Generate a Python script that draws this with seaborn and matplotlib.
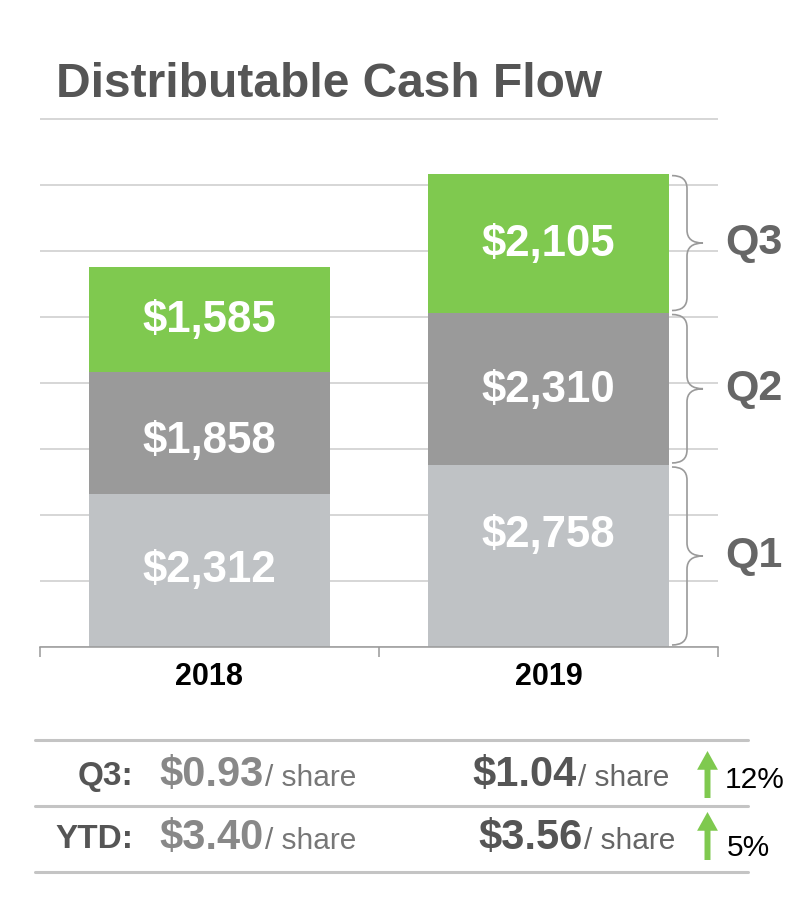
import numpy as np
import pandas as pd
import matplotlib
matplotlib.use("Agg")
import matplotlib.pyplot as plt
import seaborn as sns
from matplotlib.path import Path
from matplotlib.patches import PathPatch, FancyArrowPatch
from matplotlib.lines import Line2D

# ---------------- data ----------------
years = ["2018", "2019"]
q1 = [2312, 2758]
q2 = [1858, 2310]
q3 = [1585, 2105]
quarters = ["Q1", "Q2", "Q3"]

row_labels = ["Q3:", "YTD:"]
per_share_2018 = ["$0.93", "$3.40"]
per_share_2019 = ["$1.04", "$3.56"]
growth = ["12%", "5%"]

# ---------------- style ----------------
sns.set_style("white")
plt.rcParams['font.family'] = ['Liberation Sans', 'DejaVu Sans']

C_Q1 = "#bfc2c5"
C_Q2 = "#9a9a9a"
C_Q3 = "#7fc94f"
GRID = "#cccccc"

W, H = 810, 916
fig = plt.figure(figsize=(W / 100, H / 100), dpi=100)

PX_PER_1000 = 66.0
YMAX = 8200
ax_h = YMAX / 1000 * PX_PER_1000
ax = fig.add_axes([40 / W, (H - 647) / H, 678 / W, ax_h / H])

df = pd.DataFrame({"year": years, "q1": q1, "q2": q2, "q3": q3})
df["c1"] = df["q1"]
df["c2"] = df["q1"] + df["q2"]
df["c3"] = df["q1"] + df["q2"] + df["q3"]

bw = 0.708
for col, colr in [("c3", C_Q3), ("c2", C_Q2), ("c1", C_Q1)]:
    sns.barplot(data=df, x="year", y=col, color=colr, saturation=1,
                width=bw, ax=ax, linewidth=0, edgecolor="none")

ax.set_xlim(-0.5, 1.5)
ax.set_ylim(0, YMAX)
ax.set_yticks(np.arange(0, 8001, 1000))
ax.yaxis.grid(True, color=GRID, lw=1.1)
ax.set_axisbelow(True)
ax.set_yticklabels([])
ax.tick_params(axis="y", length=0)
for s in ["left", "right", "top"]:
    ax.spines[s].set_visible(False)
ax.spines["bottom"].set_color("#999999")
ax.spines["bottom"].set_linewidth(1.1)
ax.set_xlabel("")
ax.set_ylabel("")
ax.set_xticks([0, 1])
ax.set_xticklabels(years, fontsize=22, fontweight="bold", color="black")
ax.tick_params(axis="x", which="major", length=0, pad=11, bottom=True)
ax.set_xticks([-0.5, 0.5, 1.5], minor=True)
ax.tick_params(axis="x", which="minor", bottom=True, length=7, width=1.1,
               color="#999999", direction="out")

# segment value labels
u = 1000 / PX_PER_1000
label_dy = {(0, 0): 0, (0, 1): -8, (0, 2): -1, (1, 0): 20, (1, 1): -2, (1, 2): -1}
for i in range(len(years)):
    bottoms = [0, q1[i], q1[i] + q2[i]]
    vals = [q1[i], q2[i], q3[i]]
    for k in range(3):
        yc = bottoms[k] + vals[k] / 2 + label_dy[(i, k)] * u
        ax.text(i, yc, f"${vals[k]:,}", ha="center", va="center",
                color="white", fontsize=31.5, fontweight="bold")

# braces for 2019
def px2x(px):
    return (px - 549.5) / 339 + 1

def brace(ax, y0, y1, xa, xb, xc, r):
    ym = (y0 + y1) / 2
    verts = [(xa, y1), (xb, y1), (xb, y1 - r),
             (xb, ym + r), (xb, ym), (xc, ym),
             (xb, ym), (xb, ym - r),
             (xb, y0 + r), (xb, y0), (xa, y0)]
    codes = [Path.MOVETO, Path.CURVE3, Path.CURVE3,
             Path.LINETO, Path.CURVE3, Path.CURVE3,
             Path.CURVE3, Path.CURVE3,
             Path.LINETO, Path.CURVE3, Path.CURVE3]
    ax.add_patch(PathPatch(Path(verts, codes), fill=False, edgecolor="#9a9a9a",
                           lw=1.2, clip_on=False))

xa, xb, xc = px2x(673), px2x(688), px2x(704)
r = 13 * u
i = 1
bottoms = [0, q1[i], q1[i] + q2[i]]
vals = [q1[i], q2[i], q3[i]]
for k in range(3):
    y0 = bottoms[k] + 2 * u
    y1 = bottoms[k] + vals[k] - 2 * u
    brace(ax, y0, y1, xa, xb, xc, r)
    ax.text(px2x(726), (y0 + y1) / 2, quarters[k], ha="left", va="center",
            fontsize=31, fontweight="bold", color="#666666", clip_on=False)

# ---------------- title ----------------
def fx(px):
    return px / W

def fy(py):
    return 1 - py / H

fig.text(fx(56), fy(97), "Distributable Cash Flow", ha="left", va="baseline",
         fontsize=34.5, fontweight="bold", color="#555555")

# ---------------- table ----------------
for py in [740, 806, 872]:
    fig.add_artist(Line2D([fx(35), fx(748)], [fy(py), fy(py)],
                          color="#c4c4c4", lw=2.2))

base_y = [786, 849]
val18_end = [264, 264]
val19_end = [577, 583]
pct_x = [725, 727]
pct_y = [788, 856]
arrow_top = [751, 812]
arrow_bot = [798, 860]
for j in range(2):
    fig.text(fx(133), fy(base_y[j] - 1), row_labels[j], ha="right", va="baseline",
             fontsize=24, fontweight="bold", color="#555555")
    fig.text(fx(val18_end[j]), fy(base_y[j]), per_share_2018[j], ha="right",
             va="baseline", fontsize=30, fontweight="bold", color="#888888")
    fig.text(fx(val18_end[j] + 1), fy(base_y[j]), "/ share", ha="left",
             va="baseline", fontsize=21.5, color="#777777")
    fig.text(fx(val19_end[j]), fy(base_y[j]), per_share_2019[j], ha="right",
             va="baseline", fontsize=30, fontweight="bold", color="#555555")
    fig.text(fx(val19_end[j] + 1), fy(base_y[j]), "/ share", ha="left",
             va="baseline", fontsize=21.5, color="#666666")
    fig.text(fx(pct_x[j]), fy(pct_y[j]), growth[j], ha="left", va="baseline",
             fontsize=21.5, color="black")
    arr = FancyArrowPatch((fx(707.5), fy(arrow_bot[j])), (fx(707.5), fy(arrow_top[j])),
                          transform=fig.transFigure,
                          arrowstyle="simple,head_length=13.5,head_width=15,tail_width=4.3",
                          mutation_scale=1, shrinkA=0, shrinkB=0,
                          color=C_Q3, lw=0)
    fig.add_artist(arr)

fig.savefig("out.png", dpi=100)
